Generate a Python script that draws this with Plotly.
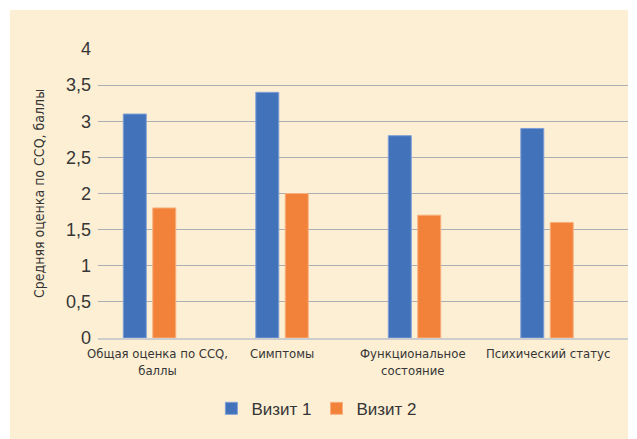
import plotly.graph_objects as go

categories = ["Общая оценка по CCQ,<br>баллы", "Симптомы", "Функциональное<br>состояние", "Психический статус"]
visit1 = [3.1, 3.4, 2.8, 2.9]
visit2 = [1.8, 2.0, 1.7, 1.6]
series_names = ["Визит 1", "Визит 2"]
y_ticks = [0, 0.5, 1, 1.5, 2, 2.5, 3, 3.5, 4]

cat_keys = ["c%d" % i for i in range(len(categories))]
label_xshift = [-7, -15, -16, -14]

NARROW = "Liberation Sans Narrow, Arial Narrow, DejaVu Sans Condensed, Liberation Sans, sans-serif"
REG = "Liberation Sans, Arial, sans-serif"
TXT = "#363636"

fig = go.Figure()
fig.add_trace(go.Bar(x=cat_keys, y=visit1, name=series_names[0],
                     marker=dict(color="#4172BA", line=dict(color="#7f9fd6", width=1))))
fig.add_trace(go.Bar(x=cat_keys, y=visit2, name=series_names[1],
                     marker=dict(color="#F2823A", line=dict(color="#f8b07e", width=1))))
# empty third series (reserves the slot, as in the source chart)
fig.add_trace(go.Bar(x=cat_keys, y=[0] * len(cat_keys), showlegend=False,
                     hoverinfo="skip", marker=dict(color="rgba(0,0,0,0)", line=dict(width=0))))

# page body has an 8px margin; figure coordinates are offset accordingly
W, H = 629, 431
L, R, T, B = 90, 9, 41, 101
pw, ph = W - L - R, H - T - B

fig.add_shape(type="rect", xref="paper", yref="paper",
              x0=(2 - L) / pw, x1=1.0,
              y0=-(B + 5) / ph, y1=(H - B - 2) / ph,
              fillcolor="#FDEFD4", line=dict(width=0), layer="below")

for key, lab, dx in zip(cat_keys, categories, label_xshift):
    fig.add_annotation(x=key, y=0, xref="x", yref="paper", text=lab,
                       showarrow=False, yanchor="top", yshift=-6, xshift=dx,
                       font=dict(family=NARROW, size=13, color=TXT), align="center")

fig.update_layout(
    width=W, height=H,
    margin=dict(l=L, r=R, t=T, b=B, pad=0),
    paper_bgcolor="white", plot_bgcolor="rgba(0,0,0,0)",
    barmode="group", bargap=0.333, bargroupgap=0.22,
    separators=", ",
    showlegend=True,
    legend=dict(orientation="h", x=0.413, xanchor="center", y=-0.245, yanchor="middle",
                font=dict(family=REG, size=17, color=TXT), bgcolor="rgba(0,0,0,0)",
                traceorder="normal"),
    xaxis=dict(showticklabels=False, showgrid=False, showline=True, automargin=False,
               range=[-0.5, len(cat_keys) - 0.5],
               linecolor="#cdcdcd", linewidth=2, ticks=""),
    yaxis=dict(range=[0, 4], tickvals=y_ticks, showgrid=True, gridcolor="#aaadb3",
               gridwidth=1.3, zeroline=False, showline=False, ticks="", automargin=False,
               ticklabelstandoff=6,
               tickfont=dict(family=REG, size=18, color=TXT),
               title=dict(text="Средняя оценка по CCQ, баллы", standoff=18,
                          font=dict(family=NARROW, size=14, color=TXT))),
)

fig.write_html("out.html")
